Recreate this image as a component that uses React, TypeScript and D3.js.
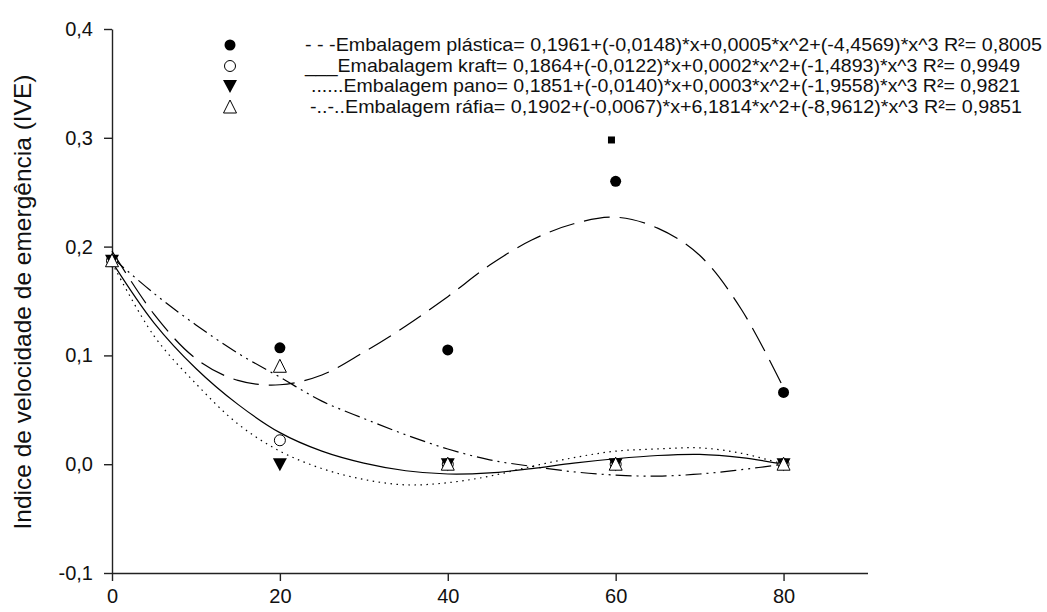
import * as d3 from "d3";
import { useEffect, useRef } from "react";

// observed means (doses)
const doses = [0, 20, 40, 60, 80];
const plasticaObs = [0.187, 0.107, 0.105, 0.26, 0.066];
const kraftObs = [0.187, 0.022, 0, 0, 0];
const panoObs = [0.187, 0, 0, 0, 0];
const rafiaObs = [0.187, 0.09, 0, 0, 0];
// stray marker in the original figure
const extraX = [59.5];
const extraY = [0.298];

// fitted curves, every 5 units
const fitX = [0, 5, 10, 15, 20, 25, 30, 35, 40, 45, 50, 55, 60, 65, 70, 75, 80];
const plasticaFit = [0.196, 0.138, 0.097, 0.077, 0.073, 0.082, 0.103, 0.127, 0.154, 0.183, 0.206, 0.221, 0.227, 0.217, 0.192, 0.142, 0.07];
const kraftFit = [0.186, 0.13, 0.088, 0.055, 0.029, 0.012, 0.001, -0.006, -0.009, -0.008, -0.004, 0.001, 0.005, 0.008, 0.009, 0.006, 0.0];
const panoFit = [0.185, 0.118, 0.074, 0.037, 0.012, -0.004, -0.014, -0.019, -0.017, -0.011, -0.002, 0.006, 0.012, 0.014, 0.015, 0.01, 0.0];
const rafiaFit = [0.19, 0.157, 0.128, 0.102, 0.08, 0.058, 0.042, 0.027, 0.014, 0.004, -0.002, -0.007, -0.01, -0.011, -0.009, -0.005, 0.0];

const xTicks = [0, 20, 40, 60, 80];
const yTicks = [-0.1, 0, 0.1, 0.2, 0.3, 0.4];

const legendLabels = [
    "- - -Embalagem plástica= 0,1961+(-0,0148)*x+0,0005*x^2+(-4,4569)*x^3 R²= 0,8005",
    "___Emabalagem kraft= 0,1864+(-0,0122)*x+0,0002*x^2+(-1,4893)*x^3 R²= 0,9949",
    "......Embalagem pano= 0,1851+(-0,0140)*x+0,0003*x^2+(-1,9558)*x^3 R²= 0,9821",
    "-..-..Embalagem ráfia= 0,1902+(-0,0067)*x+6,1814*x^2+(-8,9612)*x^3 R²= 0,9851",
];
const yTitle = "Indice de velocidade de emergência (IVE)";

type Marker = "dot" | "circle" | "tri-down" | "tri-up" | "square";

const FONT = "'Liberation Sans', Arial, sans-serif";

export default function App() {
    const ref = useRef<SVGSVGElement | null>(null);

    useEffect(() => {
        if (!ref.current) return;
        const svg = d3.select(ref.current);
        svg.selectAll("*").remove();

        const width = 1047;
        const height = 612;
        svg.attr("width", width).attr("height", height);
        svg.append("rect").attr("width", width).attr("height", height).attr("fill", "white");

        const x = d3.scaleLinear().domain([0, 90]).range([112, 867.5]);
        const y = d3.scaleLinear().domain([-0.1, 0.4]).range([573, 29]);

        const comma = (v: number) => d3.format(".1f")(v).replace(".", ",").replace("−", "-");

        // axes
        const xAxis = svg
            .append("g")
            .attr("transform", `translate(0,${y(-0.1)})`)
            .call(
                d3
                    .axisBottom(x)
                    .tickValues(xTicks)
                    .tickSize(8)
                    .tickSizeOuter(0)
                    .tickPadding(8)
                    .tickFormat((d) => `${d}`),
            );
        const yAxis = svg
            .append("g")
            .attr("transform", `translate(${x(0)},0)`)
            .call(
                d3
                    .axisLeft(y)
                    .tickValues(yTicks)
                    .tickSize(8)
                    .tickSizeOuter(0)
                    .tickPadding(11)
                    .tickFormat((d) => comma(+d)),
            );
        for (const ax of [xAxis, yAxis]) {
            ax.attr("font-family", FONT).attr("font-size", 20);
            ax.selectAll("path, line").attr("stroke", "#222").attr("stroke-width", 1.4);
            ax.selectAll("text").attr("fill", "#111");
        }

        svg.append("text")
            .attr("transform", `translate(31,${302}) rotate(-90)`)
            .attr("text-anchor", "middle")
            .attr("font-family", FONT)
            .attr("font-size", 24.5)
            .attr("fill", "#111")
            .text(yTitle);

        // fitted curves
        const line = d3
            .line<number>()
            .x((_, i) => x(fitX[i]))
            .y((d) => y(d))
            .curve(d3.curveCatmullRom);
        const fits: [number[], string | null][] = [
            [plasticaFit, "26,10"],
            [kraftFit, null],
            [panoFit, "1.5,4.5"],
            [rafiaFit, "16,5,2,5,2,5"],
        ];
        for (const [vals, dash] of fits) {
            svg.append("path")
                .datum(vals)
                .attr("fill", "none")
                .attr("stroke", "#000")
                .attr("stroke-width", 1.2)
                .attr("stroke-dasharray", dash)
                .attr("d", line);
        }

        const drawMarker = (
            g: d3.Selection<SVGGElement, unknown, null, undefined>,
            kind: Marker,
            cx: number,
            cy: number,
        ) => {
            if (kind === "dot") {
                g.append("circle").attr("cx", cx).attr("cy", cy).attr("r", 5.5).attr("fill", "#000");
            } else if (kind === "circle") {
                g.append("circle").attr("cx", cx).attr("cy", cy).attr("r", 5.5)
                    .attr("fill", "white").attr("stroke", "#000").attr("stroke-width", 1);
            } else if (kind === "tri-down") {
                g.append("path")
                    .attr("d", `M${cx - 7},${cy - 6}L${cx + 7},${cy - 6}L${cx},${cy + 7}Z`)
                    .attr("fill", "#000");
            } else if (kind === "tri-up") {
                g.append("path")
                    .attr("d", `M${cx - 6.5},${cy + 6}L${cx + 6.5},${cy + 6}L${cx},${cy - 7}Z`)
                    .attr("fill", "white").attr("stroke", "#000").attr("stroke-width", 1);
            } else {
                g.append("rect").attr("x", cx - 3.5).attr("y", cy - 3.5)
                    .attr("width", 7).attr("height", 7).attr("fill", "#000");
            }
        };

        const pts = svg.append("g");
        const series: [number[], Marker][] = [
            [plasticaObs, "dot"],
            [kraftObs, "circle"],
            [panoObs, "tri-down"],
            [rafiaObs, "tri-up"],
        ];
        for (const [vals, kind] of series) {
            vals.forEach((v, i) => drawMarker(pts, kind, x(doses[i]), y(v)));
        }
        extraX.forEach((v, i) => drawMarker(pts, "square", x(v), y(extraY[i])));

        // legend
        const legend = svg.append("g");
        const rowY = [45, 66, 86, 107];
        const rowX = [305, 305, 311, 310];
        const rowLen = [737, 715, 709, 712];
        const kinds: Marker[] = ["dot", "circle", "tri-down", "tri-up"];
        legendLabels.forEach((label, i) => {
            drawMarker(legend, kinds[i], 230, rowY[i]);
            legend
                .append("text")
                .attr("x", rowX[i])
                .attr("y", rowY[i] + 6)
                .attr("font-family", FONT)
                .attr("font-size", 19)
                .attr("textLength", rowLen[i])
                .attr("lengthAdjust", "spacingAndGlyphs")
                .attr("fill", "#111")
                .text(label);
        });
    }, []);

    return <svg ref={ref} style={{ position: "absolute", left: 0, top: 0 }}></svg>;
}
